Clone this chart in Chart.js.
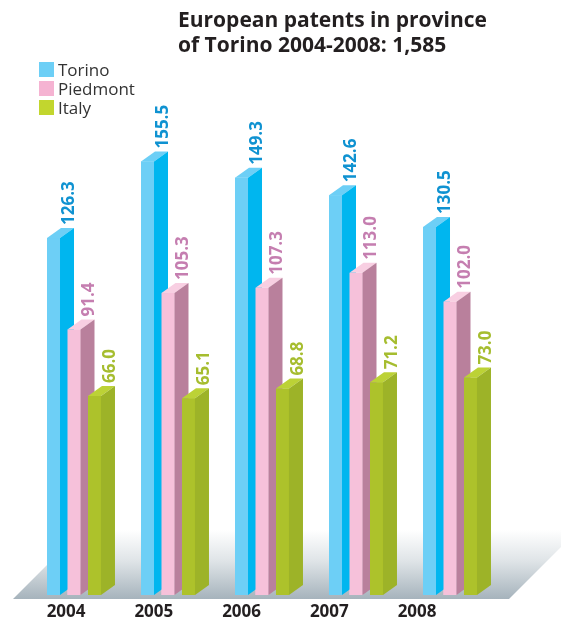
<!DOCTYPE html>
<html>
<head>
<meta charset="utf-8">
<style>
	body { margin: 0; background: #fff; }
	.wrap { position: relative; width: 561px; height: 619px; font-family: "Open Sans", sans-serif; }
	.title { position: absolute; left: 178px; top: 7px; font-size: 21px; line-height: 25px; font-weight: 700; color: #231f20; }
	.legend { position: absolute; left: 39px; top: 60px; }
	.legend-card { display: flex; align-items: center; height: 19px; font-size: 17px; color: #333; }
	.legend-card span { width: 15px; height: 15px; margin-right: 4px; display: inline-block; }
	canvas { position: absolute; left: 0; top: 0; }
</style>
</head>
<body>
<div class="wrap">
	<canvas id="graf"></canvas>
	<div class="title">European patents in province<br>of Torino 2004-2008: 1,585</div>
	<div class="legend">
		<div class="legend-card"><span style="background:#6dcff6"></span>Torino</div>
		<div class="legend-card"><span style="background:#f5b3d2"></span>Piedmont</div>
		<div class="legend-card"><span style="background:#c2d62e"></span>Italy</div>
	</div>
</div>
<script src="https://cdn.jsdelivr.net/npm/chart.js"></script>
<script>
	const years = ["2004", "2005", "2006", "2007", "2008"];
	const torino = [126.3, 155.5, 149.3, 142.6, 130.5];
	const piedmont = [91.4, 105.3, 107.3, 113.0, 102.0];
	const italy = [66.0, 65.1, 68.8, 71.2, 73.0];
	const floorValue = -10;

	// draws the floor, then redraws every bar as a box (front, top, side) and its value
	const bar3d = {
		id: "bar3d",
		beforeDatasetsDraw(chart) {
			const ctx = chart.ctx;
			const area = chart.chartArea;
			const y = chart.scales.y.getPixelForValue(floorValue) + 4;
			const left = area.left - 14;
			const right = area.right + 12;
			const d = 69;
			const g = ctx.createLinearGradient(0, y - d, 0, y);
			g.addColorStop(0, "#ffffff");
			g.addColorStop(0.45, "#dfe4e7");
			g.addColorStop(1, "#a6b3bc");
			ctx.save();
			ctx.beginPath();
			ctx.moveTo(left, y);
			ctx.lineTo(right, y);
			ctx.lineTo(right + d, y - d);
			ctx.lineTo(left + d, y - d);
			ctx.closePath();
			ctx.fillStyle = g;
			ctx.fill();
			ctx.restore();
		},
		afterDatasetsDraw(chart) {
			const ctx = chart.ctx;
			const dx = 14;
			const dy = 10;
			const poly = (pts, color) => {
				ctx.beginPath();
				ctx.moveTo(pts[0][0], pts[0][1]);
				for (let k = 1; k < pts.length; k++) ctx.lineTo(pts[k][0], pts[k][1]);
				ctx.closePath();
				ctx.fillStyle = color;
				ctx.fill();
			};
			ctx.save();
			for (let i = 0; i < years.length; i++) {
				chart.data.datasets.forEach((ds, d) => {
					const el = chart.getDatasetMeta(d).data[i];
					const x0 = el.x - el.width / 2;
					const x1 = el.x + el.width / 2;
					const top = el.y;
					const base = el.base;
					ctx.fillStyle = ds.backgroundColor;
					ctx.fillRect(x0, top, x1 - x0, base - top);
					poly([[x0, top], [x1, top], [x1 + dx, top - dy], [x0 + dx, top - dy]], ds.topColor);
					poly([[x1, top], [x1 + dx, top - dy], [x1 + dx, base - dy], [x1, base]], ds.sideColor);
				});
			}
			// value labels
			ctx.font = "bold 17px 'Open Sans'";
			ctx.textAlign = "left";
			ctx.textBaseline = "middle";
			chart.data.datasets.forEach((ds, d) => {
				chart.getDatasetMeta(d).data.forEach((el, i) => {
					ctx.save();
					ctx.translate(el.x + el.width / 2 + 9, el.y - dy - 3);
					ctx.rotate(-Math.PI / 2);
					ctx.fillStyle = ds.labelColor;
					ctx.fillText(ds.data[i].toFixed(1), 0, 0);
					ctx.restore();
				});
			});
			ctx.restore();
		},
		afterDraw(chart) {
			// year labels sit on the front edge of the floor, pulled a bit toward the left
			const ctx = chart.ctx;
			const shrink = 0.9335;
			const shift = -3;
			ctx.save();
			ctx.font = "bold 17px 'Open Sans'";
			ctx.fillStyle = "#231f20";
			ctx.textAlign = "center";
			ctx.textBaseline = "middle";
			years.forEach((yr, i) => {
				ctx.fillText(yr, shift + chart.scales.x.getPixelForValue(i) * shrink, 612);
			});
			ctx.restore();
		},
	};

	var graf = new Chart(document.getElementById("graf"), {
		type: "bar",
		data: {
			labels: years,
			datasets: [
				{
					label: "Torino",
					data: torino,
					backgroundColor: "#6dcff6",
					topColor: "#6dcff6",
					sideColor: "#00b6ef",
					labelColor: "#0f92d1",
				},
				{
					label: "Piedmont",
					data: piedmont,
					backgroundColor: "#f6c1da",
					topColor: "#f8cfe2",
					sideColor: "#b9809c",
					labelColor: "#c57eb0",
				},
				{
					label: "Italy",
					data: italy,
					backgroundColor: "#adc22b",
					topColor: "#bcd236",
					sideColor: "#9db328",
					labelColor: "#a6bd2f",
				},
			],
		},
		options: {
			responsive: true,
			maintainAspectRatio: false,
			animation: false,
			layout: {
				padding: { left: 27, right: 64, top: 45, bottom: 24 },
			},
			datasets: {
				bar: {
					base: floorValue,
					categoryPercentage: 0.654,
					barPercentage: 0.634,
				},
			},
			plugins: {
				legend: { display: false },
				tooltip: { enabled: false },
			},
			scales: {
				x: { display: false },
				y: { display: false, min: floorValue, max: 200 },
			},
		},
		plugins: [bar3d],
	});
</script>
</body>
</html>
